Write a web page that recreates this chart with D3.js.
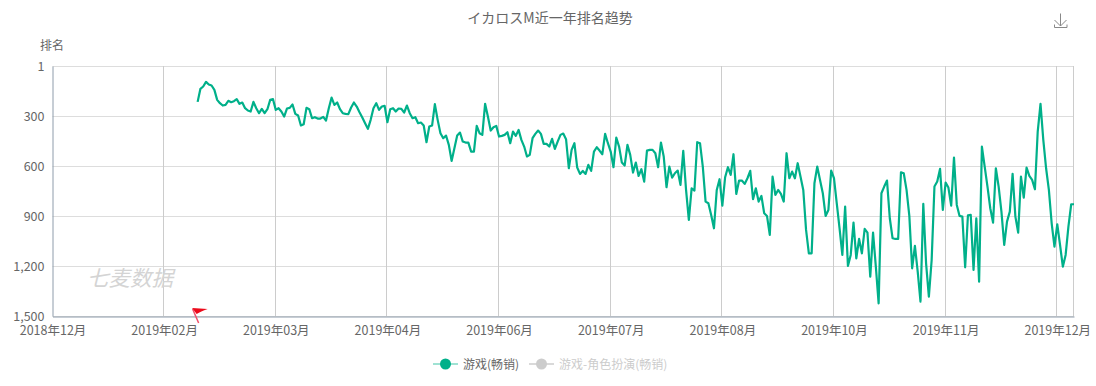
<!DOCTYPE html>
<html>
<head>
<meta charset="utf-8">
<script src="https://cdn.jsdelivr.net/npm/d3@7"></script>
<style>
  html, body { margin: 0; padding: 0; background: #fff; }
  svg { display: block; }
  text { font-family: "Noto Sans CJK SC", sans-serif; }
</style>
</head>
<body>
<svg id="canvas" width="1096" height="386"></svg>
<script>
const title = 'イカロスM近一年排名趋势';
const yName = '排名';
const watermark = '七麦数据';
const legendItems = ['游戏(畅销)', '游戏-角色扮演(畅销)'];

const firstDay = new Date(Date.UTC(2018, 11, 26));
const dayCount = 367;
const tickEveryDays = 40;
const rankTicks = [1, 300, 600, 900, 1200, 1500];
// daily chart starts on day 52, nothing before that
const firstRankDay = 52;

const ranks = [
  216, 138, 124, 96, 112, 118, 144, 204, 224, 238, 234, 210, 218, 212, 200, 228, 220, 254, 268, 274,
  216, 254, 284, 258, 284, 260, 204, 200, 264, 254, 274, 304, 256, 252, 232, 288, 298, 358, 350, 252,
  260, 314, 308, 316, 316, 306, 328, 254, 190, 234, 220, 260, 284, 288, 290, 250, 220, 244, 278, 310,
  344, 378, 324, 254, 224, 264, 244, 240, 338, 260, 254, 274, 256, 258, 280, 238, 284, 314, 308, 344,
  340, 358, 458, 364, 358, 230, 324, 404, 434, 418, 474, 570, 494, 418, 400, 454, 460, 460, 514, 514,
  360, 404, 414, 228, 304, 388, 368, 360, 424, 420, 414, 398, 464, 394, 420, 384, 444, 484, 544, 534,
  434, 408, 388, 408, 468, 468, 484, 438, 498, 454, 414, 406, 440, 614, 504, 464, 610, 648, 630, 648,
  594, 630, 514, 488, 508, 530, 408, 464, 514, 608, 430, 484, 580, 598, 474, 534, 640, 580, 660, 620,
  694, 508, 504, 504, 524, 608, 460, 544, 728, 604, 670, 644, 628, 714, 510, 744, 924, 734, 748, 458,
  464, 604, 814, 824, 894, 974, 744, 680, 838, 668, 608, 654, 530, 768, 688, 688, 708, 674, 630, 800,
  734, 814, 780, 884, 900, 1014, 664, 774, 744, 768, 814, 524, 674, 634, 674, 584, 664, 744, 984, 1124,
  1124, 704, 604, 684, 764, 900, 864, 628, 674, 824, 974, 1134, 844, 1200, 1134, 940, 1154, 1038, 1124, 978,
  1000, 1264, 1000, 1204, 1424, 764, 724, 688, 914, 1034, 1038, 1038, 638, 644, 744, 900, 1214, 1080, 1234, 1414,
  828, 1184, 1384, 1164, 724, 694, 618, 864, 700, 730, 838, 550, 834, 900, 904, 1208, 896, 894, 1224, 914,
  1294, 484, 604, 724, 854, 940, 614, 724, 874, 1074, 934, 874, 648, 904, 1000, 664, 790, 610, 660, 684,
  740, 394, 228, 444, 614, 744, 944, 1084, 950, 1074, 1204, 1134, 964, 830, 830
];

const colors = { line: '#00b08a', legendLine: '#7fd8c4', off: '#ccc', text: '#666', hGrid: '#ddd', vGrid: '#ccc', axis: '#8e9cab' };
const margin = { top: 66, right: 22, bottom: 70, left: 52.5 };
const width = 1096, height = 386;

const svg = d3.select('#canvas');
const lastDay = d3.utcDay.offset(firstDay, dayCount - 1);
const x = d3.scaleUtc().domain([firstDay, lastDay]).range([margin.left, width - margin.right]);
const y = d3.scaleLinear().domain([1, 1500]).range([margin.top, height - margin.bottom]);

const xTicks = d3.range(0, dayCount, tickEveryDays).map(d => d3.utcDay.offset(firstDay, d));
const rows = ranks.map((rank, i) => ({ date: d3.utcDay.offset(firstDay, firstRankDay + i), rank }));

/*
Grid lines
*/
svg.append('g').selectAll('line').data(rankTicks).join('line')
  .attr('x1', margin.left).attr('x2', width - margin.right)
  .attr('y1', d => Math.round(y(d)) + .5).attr('y2', d => Math.round(y(d)) + .5)
  .attr('stroke', colors.hGrid);
svg.append('g').selectAll('line').data([...xTicks.slice(1), lastDay]).join('line')
  .attr('x1', d => Math.round(x(d)) - .5).attr('x2', d => Math.round(x(d)) - .5)
  .attr('y1', margin.top).attr('y2', height - margin.bottom)
  .attr('stroke', colors.vGrid);

/*
Axes
*/
const xAxis = svg.append('g')
  .attr('transform', `translate(0,${Math.round(y(1500)) + .5})`)
  .call(d3.axisBottom(x).tickValues(xTicks).tickFormat(d3.utcFormat('%Y年%m月')).tickSize(0).tickPadding(10));
const yAxis = svg.append('g')
  .attr('transform', `translate(${margin.left},0)`)
  .call(d3.axisLeft(y).tickValues(rankTicks).tickFormat(d => d3.format(',')(d)).tickSize(0).tickPadding(8));
[xAxis, yAxis].forEach(a => {
  a.selectAll('.domain').attr('stroke', colors.axis);
  a.selectAll('text').attr('fill', colors.text).attr('font-size', 12.5)
    .style('font-family', '"Noto Sans CJK SC", sans-serif');
});
yAxis.selectAll('text').attr('dy', '.35em');

/*
Watermark and rank line
*/
svg.append('text').attr('x', 87).attr('y', 286)
  .attr('font-size', 21.5).attr('font-style', 'italic').attr('fill', '#d4d4d4')
  .text(watermark);

svg.append('path').datum(rows)
  .attr('fill', 'none').attr('stroke', colors.line).attr('stroke-width', 2.2)
  .attr('stroke-linejoin', 'round')
  .attr('d', d3.line().x(d => x(d.date)).y(d => y(d.rank)));

// red flag where the daily chart starts
const flag = svg.append('g')
  .attr('transform', `translate(${x(rows[0].date)},${y(1500)})`);
flag.append('path').attr('d', 'M-5-7L1 7').attr('stroke', '#f0506a').attr('stroke-width', 1.5);
flag.append('path').attr('d', 'M-5.5-8L10-7C5-5 2-4-1-2Z').attr('fill', '#ec0a1a');

/*
Title, name and download icon
*/
svg.append('text').attr('x', 550).attr('y', 23).attr('text-anchor', 'middle')
  .attr('font-size', 14).attr('fill', colors.text).text(title);
svg.append('text').attr('x', 40).attr('y', 50)
  .attr('font-size', 12).attr('fill', colors.text).text(yName);
svg.append('path')
  .attr('d', 'M1060.5 13.5V26M1054.5 20L1060.5 26L1066.5 20M1054.5 24.5V27.5H1067V24.5')
  .attr('fill', 'none').attr('stroke', '#888');

/*
Legend
*/
const legend = svg.append('g').attr('transform', 'translate(0,364)');
const legendX = [433, 529];
legendItems.forEach((name, i) => {
  const item = legend.append('g').attr('transform', `translate(${legendX[i]},0)`);
  item.append('line').attr('x2', 25)
    .attr('stroke', i ? colors.off : colors.legendLine).attr('stroke-width', 1.5);
  item.append('circle').attr('cx', 12.5).attr('r', 5.5)
    .attr('fill', i ? colors.off : colors.line);
  item.append('text').attr('x', 30).attr('y', 4.5)
    .attr('font-size', 12).attr('fill', i ? colors.off : colors.text).text(name);
});
</script>
</body>
</html>
